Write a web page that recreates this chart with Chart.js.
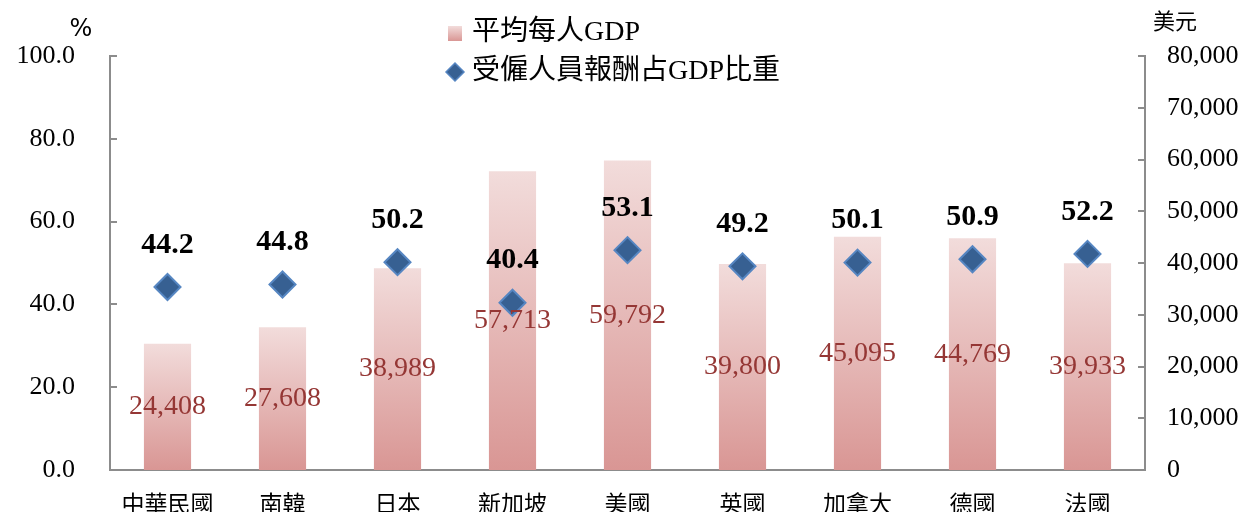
<!DOCTYPE html>
<html lang="zh-Hant">
<head>
<meta charset="utf-8">
<title>平均每人GDP與受僱人員報酬占GDP比重</title>
<script src="https://cdn.jsdelivr.net/npm/chart.js@4.4.1/dist/chart.umd.min.js"></script>
<style>
  html, body { margin: 0; padding: 0; background: #fff; }
  #wrap { position: relative; width: 1248px; height: 512px; }
</style>
</head>
<body>
<div id="wrap"><canvas id="chart"></canvas></div>
<script>
// 資料
const countries = ['中華民國', '南韓', '日本', '新加坡', '美國', '英國', '加拿大', '德國', '法國'];
const gdpPerCapita = [24408, 27608, 38989, 57713, 59792, 39800, 45095, 44769, 39933];
const compensationShare = [44.2, 44.8, 50.2, 40.4, 53.1, 49.2, 50.1, 50.9, 52.2];
const seriesNames = ['平均每人GDP', '受僱人員報酬占GDP比重'];
const leftTitle = '%';
const rightTitle = '美元';

const SERIF = '"Liberation Serif", "DejaVu Serif", "Noto Sans CJK TC", serif';
const CJK = '"Noto Sans CJK TC", "Liberation Serif", sans-serif';
const AXIS_GRAY = '#8c8c8c';
const BAR_TOP = '#f2dcdb';
const BAR_BOTTOM = '#d99694';
const DIAMOND_FILL = '#376092';
const DIAMOND_EDGE = '#5686c2';
const BAR_LABEL = '#953735';

function barGradient(ctx2d, top, bottom) {
  const g = ctx2d.createLinearGradient(0, top, 0, bottom);
  g.addColorStop(0, BAR_TOP);
  g.addColorStop(1, BAR_BOTTOM);
  return g;
}

// 縱軸寬度固定，並取消標籤造成的上下留白
function fixWidth(w) {
  return (s) => { s.width = w; s.paddingTop = 0; s.paddingBottom = 0; };
}

// 內側刻度線
const innerTicks = {
  id: 'innerTicks',
  afterDraw(chart) {
    const { ctx, scales } = chart;
    ctx.save();
    ctx.strokeStyle = AXIS_GRAY;
    ctx.lineWidth = 2;
    scales.y.ticks.forEach((t) => {
      const py = Math.round(scales.y.getPixelForValue(t.value));
      ctx.beginPath(); ctx.moveTo(scales.y.right, py); ctx.lineTo(scales.y.right + 7, py); ctx.stroke();
    });
    scales.y1.ticks.forEach((t) => {
      const py = Math.round(scales.y1.getPixelForValue(t.value));
      ctx.beginPath(); ctx.moveTo(scales.y1.left, py); ctx.lineTo(scales.y1.left - 7, py); ctx.stroke();
    });
    ctx.restore();
  },
};

// 數值標籤
const valueLabels = {
  id: 'valueLabels',
  afterDatasetsDraw(chart) {
    const { ctx } = chart;
    ctx.save();
    ctx.textAlign = 'center';
    ctx.textBaseline = 'middle';

    ctx.font = '28px ' + SERIF;
    ctx.fillStyle = BAR_LABEL;
    chart.getDatasetMeta(0).data.forEach((bar, i) => {
      ctx.fillText(gdpPerCapita[i].toLocaleString('en-US'), bar.x, (bar.y + bar.base) / 2);
    });

    ctx.font = 'bold 30px ' + SERIF;
    ctx.fillStyle = '#000';
    chart.getDatasetMeta(1).data.forEach((pt, i) => {
      ctx.fillText(compensationShare[i].toFixed(1), pt.x, pt.y - 42);
    });
    ctx.restore();
  },
};

// 圖例與軸標題
const legendAndTitles = {
  id: 'legendAndTitles',
  afterDraw(chart) {
    const { ctx } = chart;
    ctx.save();
    ctx.textBaseline = 'middle';
    ctx.textAlign = 'left';

    ctx.fillStyle = barGradient(ctx, 26, 41);
    ctx.fillRect(448, 26, 14, 15);

    ctx.beginPath();
    ctx.moveTo(446, 72); ctx.lineTo(455, 63); ctx.lineTo(464, 72); ctx.lineTo(455, 81); ctx.closePath();
    ctx.fillStyle = DIAMOND_FILL; ctx.fill();
    ctx.strokeStyle = DIAMOND_EDGE; ctx.lineWidth = 1.5; ctx.stroke();

    ctx.fillStyle = '#000';
    ctx.font = '28px ' + SERIF;
    ctx.fillText(chart.data.datasets[0].label, 472, 33);
    ctx.fillText(chart.data.datasets[1].label, 472, 72);

    ctx.textAlign = 'center';
    ctx.font = '24px "DejaVu Sans", sans-serif';
    ctx.fillText(leftTitle, 81, 30);
    ctx.font = '22px ' + CJK;
    ctx.fillText(rightTitle, 1175, 21);
    ctx.restore();
  },
};

new Chart(document.getElementById('chart'), {
  data: {
    labels: countries,
    datasets: [
      {
        type: 'bar',
        label: seriesNames[0],
        data: gdpPerCapita,
        yAxisID: 'y1',
        categoryPercentage: 1,
        barPercentage: 0.41,
        backgroundColor(c) {
          const area = c.chart.chartArea;
          if (!area) return BAR_BOTTOM;
          const top = c.chart.scales.y1.getPixelForValue(gdpPerCapita[c.dataIndex]);
          return barGradient(c.chart.ctx, top, area.bottom);
        },
        borderWidth: 0,
        order: 1,
      },
      {
        type: 'line',
        label: seriesNames[1],
        data: compensationShare,
        yAxisID: 'y',
        showLine: false,
        pointStyle: 'rectRot',
        pointRadius: 13,
        pointHoverRadius: 13,
        pointBackgroundColor: DIAMOND_FILL,
        pointBorderColor: DIAMOND_EDGE,
        pointBorderWidth: 2,
        order: 0,
      },
    ],
  },
  options: {
    responsive: true,
    maintainAspectRatio: false,
    animation: false,
    layout: { padding: { top: 56, left: 0, right: 0, bottom: 0 } },
    plugins: {
      legend: { display: false },
      tooltip: { enabled: false },
    },
    scales: {
      x: {
        grid: { display: false, drawTicks: false },
        border: { display: true, color: AXIS_GRAY, width: 2 },
        ticks: { font: { size: 23, family: CJK }, color: '#000', padding: 19, maxRotation: 0 },
        afterFit(s) { s.height = 42; },
      },
      y: {
        position: 'left',
        min: 0,
        max: 100,
        grid: { display: false, drawTicks: false },
        border: { display: true, color: AXIS_GRAY, width: 2 },
        ticks: {
          stepSize: 20,
          padding: 35,
          color: '#000',
          font: { size: 26, family: SERIF },
          callback: (v) => Number(v).toFixed(1),
        },
        afterFit: fixWidth(110),
      },
      y1: {
        position: 'right',
        min: 0,
        max: 80000,
        grid: { display: false, drawTicks: false },
        border: { display: true, color: AXIS_GRAY, width: 2 },
        ticks: {
          stepSize: 10000,
          padding: 22,
          color: '#000',
          font: { size: 26, family: SERIF },
          callback: (v) => Number(v).toLocaleString('en-US'),
        },
        afterFit: fixWidth(103),
      },
    },
  },
  plugins: [innerTicks, valueLabels, legendAndTitles],
});
</script>
</body>
</html>
